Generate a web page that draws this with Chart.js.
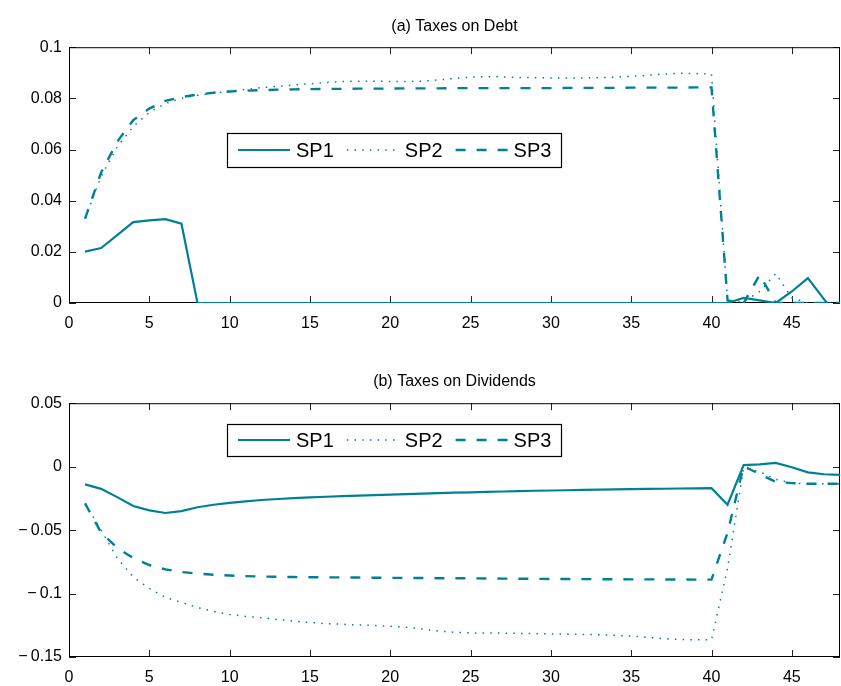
<!DOCTYPE html>
<html>
<head>
<meta charset="utf-8">
<script src="https://cdn.jsdelivr.net/npm/chart.js@4.4.0/dist/chart.umd.min.js"></script>
<style>
  html, body { margin: 0; padding: 0; background: #fff; }
  .panel { position: absolute; left: 0; width: 841px; height: 343px; }
  #top { top: 0; }
  #bottom { top: 343px; }
</style>
</head>
<body>
<div class="panel" id="top"><canvas id="debtChart"></canvas></div>
<div class="panel" id="bottom"><canvas id="divChart"></canvas></div>
<script>
const periods = [1, 2, 3, 4, 5, 6, 7, 8, 9, 10, 11, 12, 13, 14, 15, 16, 17, 18, 19, 20, 21, 22, 23, 24,
    25, 26, 27, 28, 29, 30, 31, 32, 33, 34, 35, 36, 37, 38, 39, 40, 41, 42, 43, 44, 45, 46, 47, 48];

const seriesNames = ['SP1', 'SP2', 'SP3'];

// (a) taxes on debt
const debtSP1 = [0.0201, 0.0215, 0.0265, 0.0316, 0.0323, 0.0328, 0.031, 0, 0, 0, 0, 0, 0, 0, 0, 0,
    0, 0, 0, 0, 0, 0, 0, 0, 0, 0, 0, 0, 0, 0, 0, 0, 0, 0, 0, 0, 0, 0, 0, 0,
    0, 0.002, 0.001, 0, 0.0045, 0.0097, 0.0015, -0.006];
const debtSP2 = [0.033, 0.0495, 0.061, 0.069, 0.0745, 0.078, 0.08, 0.0812, 0.082, 0.0828, 0.0835, 0.0842,
    0.0847, 0.0852, 0.0857, 0.0862, 0.0866, 0.0867, 0.0867, 0.0866, 0.0866, 0.0867, 0.0872, 0.0878,
    0.0883, 0.0885, 0.0884, 0.0882, 0.0881, 0.088, 0.088, 0.088, 0.0881, 0.0883, 0.0886, 0.089,
    0.0895, 0.0898, 0.0897, 0.0895, 0.0005, 0.0005, 0.0045, 0.0115, 0.002, 0, 0, 0];
const debtSP3 = [0.033, 0.051, 0.063, 0.0715, 0.076, 0.079, 0.0805, 0.0815, 0.0822, 0.0827, 0.083, 0.0832,
    0.0834, 0.0835, 0.0836, 0.0837, 0.0837, 0.0838, 0.0838, 0.0838, 0.0839, 0.0839, 0.0839, 0.084,
    0.084, 0.084, 0.084, 0.084, 0.084, 0.084, 0.0841, 0.0841, 0.0841, 0.0841, 0.0842, 0.0842,
    0.0842, 0.0842, 0.0843, 0.0843, 0.001, 0, 0.011, 0, 0, 0, 0, 0];

// (b) taxes on dividends
const divSP1 = [-0.014, -0.0175, -0.024, -0.031, -0.0345, -0.0365, -0.035, -0.032, -0.03, -0.0285, -0.0273, -0.0263,
    -0.0255, -0.0248, -0.0242, -0.0237, -0.0232, -0.0228, -0.0224, -0.022, -0.0216, -0.0212, -0.0208, -0.0205,
    -0.0202, -0.0199, -0.0196, -0.0193, -0.019, -0.0188, -0.0186, -0.0183, -0.0181, -0.0179, -0.0177, -0.0175,
    -0.0174, -0.0172, -0.0171, -0.017, -0.03, 0.0012, 0.0018, 0.003, -0.0005, -0.0045, -0.006, -0.0065];
const divSP2 = [-0.029, -0.05, -0.072, -0.087, -0.096, -0.103, -0.107, -0.111, -0.114, -0.1165, -0.118, -0.119,
    -0.1205, -0.1218, -0.1228, -0.1237, -0.1242, -0.1247, -0.1252, -0.1258, -0.1265, -0.128, -0.1295, -0.1305,
    -0.131, -0.131, -0.1312, -0.1314, -0.1316, -0.1318, -0.132, -0.1322, -0.1325, -0.133, -0.1335, -0.1345,
    -0.1355, -0.1362, -0.1365, -0.1365, -0.08, -0.001, -0.004, -0.01, -0.013, -0.0135, -0.0135, -0.0135];
const divSP3 = [-0.029, -0.052, -0.064, -0.072, -0.0775, -0.081, -0.083, -0.0843, -0.0852, -0.0858, -0.0863, -0.0866,
    -0.0868, -0.087, -0.0871, -0.0872, -0.0873, -0.0874, -0.0875, -0.0876, -0.0877, -0.0878, -0.0879, -0.088,
    -0.088, -0.0881, -0.0882, -0.0883, -0.0884, -0.0885, -0.0885, -0.0886, -0.0887, -0.0887, -0.0888, -0.0888,
    -0.0889, -0.0889, -0.089, -0.089, -0.052, 0.0005, -0.006, -0.012, -0.013, -0.0135, -0.0135, -0.0135];

const xTicks = [0, 5, 10, 15, 20, 25, 30, 35, 40, 45];
const debtYTicks = [0, 0.02, 0.04, 0.06, 0.08, 0.1];
const debtYLabels = ['0', '0.02', '0.04', '0.06', '0.08', '0.1'];
const divYTicks = [-0.15, -0.1, -0.05, 0, 0.05];
const divYLabels = ['\u2212\u20090.15', '\u2212\u20090.1', '\u2212\u20090.05', '0', '0.05'];

const teal = 'rgb(0,128,148)';
const fontFamily = '"Liberation Sans", Arial, Helvetica, sans-serif';

// box round the plot area with inward ticks, like the matlab axes
const axesFrame = {
    id: 'axesFrame',
    beforeDatasetsDraw(chart) {
        const { ctx, chartArea: a, scales } = chart;
        ctx.save();
        ctx.strokeStyle = '#222';
        ctx.lineWidth = 1;
        scales.x.ticks.forEach(t => {
            const px = Math.round(scales.x.getPixelForValue(t.value)) + 0.5;
            ctx.beginPath();
            ctx.moveTo(px, a.bottom); ctx.lineTo(px, a.bottom - 7);
            ctx.moveTo(px, a.top); ctx.lineTo(px, a.top + 7);
            ctx.stroke();
        });
        scales.y.ticks.forEach(t => {
            const py = Math.round(scales.y.getPixelForValue(t.value)) + 0.5;
            ctx.beginPath();
            ctx.moveTo(a.left, py); ctx.lineTo(a.left + 7, py);
            ctx.moveTo(a.right, py); ctx.lineTo(a.right - 7, py);
            ctx.stroke();
        });
        ctx.strokeStyle = '#000';
        ctx.strokeRect(a.left + 0.5, a.top + 0.5, a.width - 1, a.height - 1);
        ctx.restore();
    }
};

// legend drawn inside the axes, matlab style
const legendBox = {
    id: 'legendBox',
    afterDatasetsDraw(chart, args, o) {
        const ctx = chart.ctx;
        ctx.save();
        ctx.fillStyle = '#fff';
        ctx.fillRect(o.x, o.y, o.w, o.h);
        ctx.strokeStyle = '#000';
        ctx.lineWidth = 1.2;
        ctx.strokeRect(o.x + 0.5, o.y + 0.5, o.w, o.h);
        ctx.font = '20px ' + fontFamily;
        ctx.textBaseline = 'middle';
        const cy = o.y + o.h / 2;
        let x = o.x + 11;
        chart.data.datasets.forEach(ds => {
            ctx.strokeStyle = ds.borderColor;
            ctx.lineWidth = ds.borderWidth;
            ctx.setLineDash(ds.borderDash || []);
            ctx.beginPath();
            ctx.moveTo(x, cy); ctx.lineTo(x + 52, cy);
            ctx.stroke();
            ctx.setLineDash([]);
            ctx.fillStyle = '#000';
            ctx.fillText(ds.label, x + 58, cy + 1);
            x += 58 + ctx.measureText(ds.label).width + 13;
        });
        ctx.restore();
    }
};

function makeDatasets(a, b, c) {
    const styles = [
        { borderWidth: 2.2, borderDash: [] },
        { borderWidth: 1.5, borderDash: [1.5, 6.2] },
        { borderWidth: 2.4, borderDash: [10, 11] }
    ];
    return [a, b, c].map((vals, i) => ({
        label: seriesNames[i],
        data: periods.map((p, j) => ({ x: p, y: vals[j] })),
        borderColor: teal,
        borderWidth: styles[i].borderWidth,
        borderDash: styles[i].borderDash,
        borderCapStyle: 'butt',
        pointRadius: 0,
        tension: 0,
        fill: false
    }));
}

function makeChart(id, cfg) {
    return new Chart(document.getElementById(id), {
        type: 'line',
        data: { datasets: makeDatasets(cfg.a, cfg.b, cfg.c) },
        plugins: [axesFrame, legendBox],
        options: {
            responsive: true,
            maintainAspectRatio: false,
            animation: false,
            layout: { padding: { left: 0, right: 1, top: 0, bottom: 0 } },
            plugins: {
                legend: { display: false },
                tooltip: { enabled: false },
                title: {
                    display: true,
                    fullSize: false,
                    text: cfg.title,
                    color: '#000',
                    font: { family: fontFamily, size: 16, weight: 'normal' },
                    padding: cfg.titlePad
                },
                legendBox: cfg.legend
            },
            scales: {
                x: {
                    type: 'linear',
                    min: 0,
                    max: 48,
                    grid: { display: false, drawTicks: false },
                    border: { display: false },
                    afterBuildTicks: scale => { scale.ticks = xTicks.map(v => ({ value: v })); },
                    afterFit: scale => { scale.height = cfg.xAxisHeight; },
                    ticks: {
                        color: '#000',
                        padding: 11,
                        maxRotation: 0,
                        autoSkip: false,
                        font: { family: fontFamily, size: 16 }
                    }
                },
                y: {
                    min: cfg.yMin,
                    max: cfg.yMax,
                    grid: { display: false, drawTicks: false },
                    border: { display: false },
                    afterBuildTicks: scale => { scale.ticks = cfg.yTicks.map(v => ({ value: v })); },
                    afterFit: scale => { scale.width = 69; },
                    ticks: {
                        color: '#000',
                        padding: 7,
                        font: { family: fontFamily, size: 16 },
                        callback: (value, i) => cfg.yLabels[i]
                    }
                }
            }
        }
    });
}

makeChart('debtChart', {
    title: '(a) Taxes on Debt',
    titlePad: { top: 17, bottom: 11 },
    a: debtSP1, b: debtSP2, c: debtSP3,
    yMin: 0, yMax: 0.1,
    yTicks: debtYTicks, yLabels: debtYLabels,
    xAxisHeight: 40,
    legend: { x: 227, y: 133, w: 334, h: 34 }
});

makeChart('divChart', {
    title: '(b) Taxes on Dividends',
    titlePad: { top: 29, bottom: 12 },
    a: divSP1, b: divSP2, c: divSP3,
    yMin: -0.15, yMax: 0.05,
    yTicks: divYTicks, yLabels: divYLabels,
    xAxisHeight: 29,
    legend: { x: 227, y: 81, w: 334, h: 32 }
});
</script>
</body>
</html>
